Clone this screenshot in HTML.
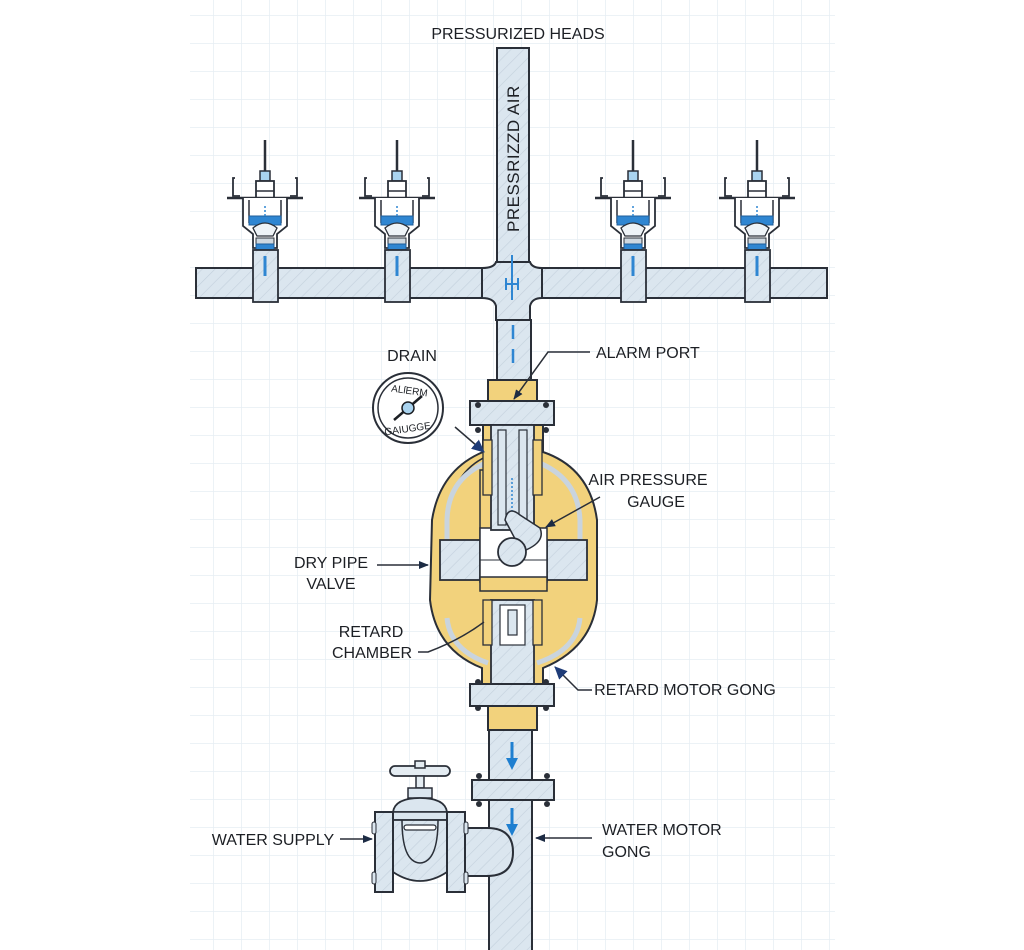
<!DOCTYPE html>
<html><head><meta charset="utf-8"><style>
html,body{margin:0;padding:0;background:#fff;}
svg{display:block;}
text{font-family:"Liberation Sans",Arial,sans-serif;fill:#1c1f24;}
</style></head><body>
<svg width="1024" height="950" viewBox="0 0 1024 950" xmlns="http://www.w3.org/2000/svg">
<defs>
<pattern id="grid" x="185" y="15" width="28" height="28" patternUnits="userSpaceOnUse">
<path d="M0 0H28M0 0V28" stroke="#e6edf3" stroke-width="1.5" fill="none"/>
</pattern>
<pattern id="hatch" width="9" height="9" patternUnits="userSpaceOnUse" patternTransform="rotate(45)">
<rect width="9" height="9" fill="#dbe6ef"/>
<line x1="0" y1="0" x2="0" y2="9" stroke="#c3d0dc" stroke-width="1.2"/>
</pattern>
<pattern id="hatchY" width="9" height="9" patternUnits="userSpaceOnUse" patternTransform="rotate(45)">
<rect width="9" height="9" fill="#f2d27c"/>
<line x1="0" y1="0" x2="0" y2="9" stroke="#e6c165" stroke-width="1"/>
</pattern>
<marker id="ar" markerWidth="10" markerHeight="10" refX="9" refY="5" orient="auto" markerUnits="userSpaceOnUse">
<path d="M0 1 L10 5 L0 9 Z" fill="#1c2b44"/>
</marker>
<marker id="ab" markerWidth="14" markerHeight="14" refX="12" refY="7" orient="auto" markerUnits="userSpaceOnUse">
<path d="M0 1 L13 7 L0 13 Z" fill="#1f3c78"/>
</marker>
<g id="head">
<line x1="0" y1="-128" x2="0" y2="-95" stroke="#2a2f38" stroke-width="2.5"/>
<rect x="-5" y="-97" width="10" height="10" fill="#a9d3ef" stroke="#2a2f38" stroke-width="1.5"/>
<rect x="-9" y="-87" width="18" height="22" fill="#fff" stroke="#2a2f38" stroke-width="1.8"/>
<line x1="-9" y1="-77" x2="9" y2="-77" stroke="#2a2f38" stroke-width="1.5"/>
<path d="M-30 -90 L-32 -90 L-32 -72 L-25 -72 M30 -90 L32 -90 L32 -72 L25 -72" stroke="#2a2f38" stroke-width="1.8" fill="none"/>
<line x1="-38" y1="-70" x2="38" y2="-70" stroke="#2a2f38" stroke-width="2.5"/>
<path d="M-22 -70 L-22 -42 L-12 -34 L-12 -20 L12 -20 L12 -34 L22 -42 L22 -70" fill="#fff" stroke="#2a2f38" stroke-width="1.8"/>
<path d="M-16 -68 L-16 -45 M16 -68 L16 -45" stroke="#2a2f38" stroke-width="1.5"/>
<rect x="-16" y="-52" width="32" height="9" fill="#2f86d2" stroke="#1f5e9a" stroke-width="1"/>
<path d="M-12 -40 Q0 -50 12 -40 L8 -32 L-8 -32 Z" fill="#eef3f7" stroke="#2a2f38" stroke-width="1.3"/>
<rect x="-9" y="-30" width="18" height="6" fill="#cfd8e0" stroke="#2a2f38" stroke-width="1"/>
<rect x="-9" y="-24" width="18" height="6" fill="#2f86d2" stroke="#1f5e9a" stroke-width="1"/>
<line x1="0" y1="-62" x2="0" y2="-52" stroke="#2f86d2" stroke-width="1.5" stroke-dasharray="2 2"/>
<rect x="-12" y="-18" width="25" height="52" fill="url(#hatch)" stroke="#2a2f38" stroke-width="1.8"/>
<line x1="0" y1="-12" x2="0" y2="8" stroke="#2f86d2" stroke-width="3"/>
</g>
</defs>
<rect x="190" y="0" width="645" height="950" fill="url(#grid)"/>

<!-- top vertical pipe -->
<rect x="497" y="48" width="32" height="220" fill="url(#hatch)" stroke="#2a2f38" stroke-width="2"/>
<text x="519" y="232" font-size="17" transform="rotate(-90 519 232)" letter-spacing="0.5">PRESSRIZZD AIR</text>

<!-- horizontal pipe -->
<rect x="196" y="268" width="631" height="30" fill="url(#hatch)" stroke="#2a2f38" stroke-width="2"/>
<use href="#head" x="265" y="268"/>
<use href="#head" x="397" y="268"/>
<use href="#head" x="633" y="268"/>
<use href="#head" x="757" y="268"/>

<!-- tee -->
<path d="M496 262 L530 262 Q532 268 542 268 L542 298 Q532 298 530 306 L530 320 L496 320 L496 306 Q494 298 482 298 L482 268 Q494 268 496 262 Z" fill="url(#hatch)" stroke="#2a2f38" stroke-width="2"/>
<line x1="512" y1="255" x2="512" y2="300" stroke="#2f86d2" stroke-width="2"/>
<path d="M506 278 L506 290 M506 284 L518 284 M518 278 L518 290" stroke="#2f86d2" stroke-width="2" fill="none"/>
<!-- pipe down to valve -->
<rect x="497" y="320" width="34" height="62" fill="url(#hatch)" stroke="#2a2f38" stroke-width="2"/>
<line x1="513" y1="325" x2="513" y2="368" stroke="#2f86d2" stroke-width="2.5" stroke-dasharray="14 10"/>

<!-- valve -->
<rect x="488" y="380" width="49" height="22" fill="#f2d27c" stroke="#2a2f38" stroke-width="2"/>
<rect x="470" y="401" width="84" height="24" fill="url(#hatch)" stroke="#2a2f38" stroke-width="2"/>
<circle cx="478" cy="405" r="3" fill="#2a2f38"/><circle cx="546" cy="405" r="3" fill="#2a2f38"/>
<circle cx="478" cy="430" r="3" fill="#2a2f38"/><circle cx="546" cy="430" r="3" fill="#2a2f38"/>
<!-- body yellow -->
<path d="M483 425 L483 452 Q440 470 432 520 L430 600 Q436 650 482 668 L482 684 L543 684 L543 668 Q592 648 597 600 L597 520 Q590 468 543 452 L543 425 Z" fill="#f2d27c" stroke="#2a2f38" stroke-width="2"/>
<!-- inner cavity outlines -->
<path d="M490 470 L490 455 Q452 470 447 520 L447 548 L480 548 L480 470 Z" fill="none" stroke="#2a2f38" stroke-width="1.5"/>
<path d="M447 520 Q448 478 488 462 M447 548 L447 520" fill="none" stroke="#c9d4de" stroke-width="5"/>
<path d="M537 462 Q578 478 580 520 M580 520 L580 548" fill="none" stroke="#c9d4de" stroke-width="5"/>
<path d="M447 618 Q450 650 488 663 M537 663 Q577 650 580 618" fill="none" stroke="#c9d4de" stroke-width="5"/>
<!-- side blocks -->
<rect x="440" y="540" width="40" height="40" fill="url(#hatch)" stroke="#2a2f38" stroke-width="1.8"/>
<rect x="547" y="540" width="40" height="40" fill="url(#hatch)" stroke="#2a2f38" stroke-width="1.8"/>
<!-- center cavity white -->
<rect x="480" y="528" width="67" height="54" fill="#fff" stroke="#2a2f38" stroke-width="1.5"/>
<line x1="480" y1="560" x2="547" y2="560" stroke="#2a2f38" stroke-width="1"/>
<!-- top stem -->
<rect x="491" y="425" width="43" height="105" fill="url(#hatch)" stroke="#2a2f38" stroke-width="1.8"/>
<rect x="498" y="430" width="8" height="95" fill="#dbe6ef" stroke="#2a2f38" stroke-width="1.2"/>
<rect x="519" y="430" width="8" height="95" fill="#dbe6ef" stroke="#2a2f38" stroke-width="1.2"/>
<rect x="483" y="440" width="9" height="55" fill="#f2d27c" stroke="#2a2f38" stroke-width="1.3"/>
<rect x="533" y="440" width="9" height="55" fill="#f2d27c" stroke="#2a2f38" stroke-width="1.3"/>
<line x1="512" y1="478" x2="512" y2="525" stroke="#2f86d2" stroke-width="1.5" stroke-dasharray="2 2"/>
<!-- clapper -->
<path d="M505 520 Q508 505 520 515 L540 528 Q545 540 530 548 L522 552 Z" fill="url(#hatch)" stroke="#2a2f38" stroke-width="1.5"/>
<circle cx="512" cy="552" r="14" fill="url(#hatch)" stroke="#2a2f38" stroke-width="1.8"/>
<!-- lower seat -->
<rect x="480" y="577" width="67" height="14" fill="#f2d27c" stroke="#2a2f38" stroke-width="1.5"/>
<rect x="491" y="600" width="43" height="84" fill="url(#hatch)" stroke="#2a2f38" stroke-width="1.8"/>
<rect x="500" y="605" width="25" height="40" fill="#fff" stroke="#2a2f38" stroke-width="1.2"/>
<rect x="508" y="610" width="9" height="25" fill="#dbe6ef" stroke="#2a2f38" stroke-width="1.2"/>
<rect x="483" y="600" width="9" height="45" fill="#f2d27c" stroke="#2a2f38" stroke-width="1.3"/>
<rect x="533" y="600" width="9" height="45" fill="#f2d27c" stroke="#2a2f38" stroke-width="1.3"/>
<!-- bottom flange -->
<rect x="470" y="684" width="84" height="22" fill="url(#hatch)" stroke="#2a2f38" stroke-width="2"/>
<circle cx="478" cy="682" r="3" fill="#2a2f38"/><circle cx="546" cy="682" r="3" fill="#2a2f38"/>
<circle cx="478" cy="708" r="3" fill="#2a2f38"/><circle cx="546" cy="708" r="3" fill="#2a2f38"/>
<rect x="488" y="706" width="49" height="24" fill="#f2d27c" stroke="#2a2f38" stroke-width="2"/>

<!-- lower pipe -->
<rect x="489" y="730" width="43" height="222" fill="url(#hatch)" stroke="#2a2f38" stroke-width="2"/>
<rect x="472" y="780" width="82" height="20" fill="url(#hatch)" stroke="#2a2f38" stroke-width="2"/>
<circle cx="479" cy="776" r="3" fill="#2a2f38"/><circle cx="547" cy="776" r="3" fill="#2a2f38"/>
<circle cx="479" cy="804" r="3" fill="#2a2f38"/><circle cx="547" cy="804" r="3" fill="#2a2f38"/>
<path d="M512 742 L512 760" stroke="#1e7fd0" stroke-width="3"/><path d="M506 758 L518 758 L512 770 Z" fill="#1e7fd0"/>
<path d="M512 808 L512 826" stroke="#1e7fd0" stroke-width="3"/><path d="M506 824 L518 824 L512 836 Z" fill="#1e7fd0"/>

<!-- branch elbow -->
<path d="M460 828 L487 828 Q513 828 513 852 Q513 876 487 876 L460 876 Z" fill="url(#hatch)" stroke="#2a2f38" stroke-width="2"/>
<!-- gate valve -->
<rect x="390" y="766" width="60" height="10" rx="5" fill="#e4ecf2" stroke="#2a2f38" stroke-width="1.8"/>
<rect x="415" y="761" width="10" height="7" fill="#e4ecf2" stroke="#2a2f38" stroke-width="1.5"/>
<rect x="416" y="776" width="8" height="12" fill="#e4ecf2" stroke="#2a2f38" stroke-width="1.5"/>
<rect x="408" y="788" width="24" height="10" fill="#dbe6ef" stroke="#2a2f38" stroke-width="1.5"/>
<path d="M393 812 Q395 798 420 798 Q445 798 447 812 Z" fill="#dbe6ef" stroke="#2a2f38" stroke-width="1.8"/>
<rect x="393" y="812" width="54" height="8" fill="#dbe6ef" stroke="#2a2f38" stroke-width="1.5"/>
<path d="M393 820 L447 820 L447 872 Q420 890 393 872 Z" fill="url(#hatch)" stroke="#2a2f38" stroke-width="1.8"/>
<path d="M402 820 Q402 862 420 863 Q438 862 438 820" fill="none" stroke="#2a2f38" stroke-width="1.5"/>
<rect x="404" y="825" width="32" height="5" rx="2.5" fill="#fff" stroke="#2a2f38" stroke-width="1.3"/>
<rect x="375" y="812" width="18" height="80" fill="url(#hatch)" stroke="#2a2f38" stroke-width="2"/>
<rect x="447" y="812" width="18" height="80" fill="url(#hatch)" stroke="#2a2f38" stroke-width="2"/>
<rect x="372" y="822" width="4" height="12" rx="2" fill="#dbe6ef" stroke="#2a2f38"/><rect x="372" y="872" width="4" height="12" rx="2" fill="#dbe6ef" stroke="#2a2f38"/>
<rect x="464" y="822" width="4" height="12" rx="2" fill="#dbe6ef" stroke="#2a2f38"/><rect x="464" y="872" width="4" height="12" rx="2" fill="#dbe6ef" stroke="#2a2f38"/>

<!-- gauge -->
<circle cx="408" cy="408" r="35" fill="#fff" stroke="#2a2f38" stroke-width="2"/>
<circle cx="408" cy="408" r="30" fill="#fff" stroke="#2a2f38" stroke-width="1.5"/>
<text x="409" y="394" font-size="10" text-anchor="middle" transform="rotate(8 409 394)">ALſERM</text>
<text x="408" y="432" font-size="10" text-anchor="middle" transform="rotate(-8 408 432)">GAIUGGE</text>
<line x1="394" y1="420" x2="422" y2="396" stroke="#1c1f24" stroke-width="2.5"/>
<circle cx="408" cy="408" r="6" fill="#a9d3ef" stroke="#1c1f24" stroke-width="1.5"/>

<!-- labels & leaders -->
<text x="518" y="39" font-size="16" text-anchor="middle">PRESSURIZED HEADS</text>
<text x="412" y="361" font-size="16" text-anchor="middle">DRAIN</text>
<line x1="455" y1="427" x2="484" y2="452" stroke="#2a2f38" stroke-width="1.5" marker-end="url(#ab)"/>
<text x="596" y="358" font-size="16">ALARM PORT</text>
<path d="M590 352 L548 352 L514 399" fill="none" stroke="#2a2f38" stroke-width="1.5" marker-end="url(#ar)"/>
<text x="648" y="485" font-size="16" text-anchor="middle">AIR PRESSURE</text>
<text x="656" y="507" font-size="16" text-anchor="middle">GAUGE</text>
<line x1="600" y1="497" x2="546" y2="527" stroke="#2a2f38" stroke-width="1.5" marker-end="url(#ar)"/>
<text x="331" y="568" font-size="16" text-anchor="middle">DRY PIPE</text>
<text x="331" y="589" font-size="16" text-anchor="middle">VALVE</text>
<line x1="377" y1="565" x2="428" y2="565" stroke="#2a2f38" stroke-width="1.5" marker-end="url(#ar)"/>
<text x="371" y="637" font-size="16" text-anchor="middle">RETARD</text>
<text x="372" y="658" font-size="16" text-anchor="middle">CHAMBER</text>
<path d="M418 652 L428 652 Q460 640 484 622" fill="none" stroke="#2a2f38" stroke-width="1.5"/>
<text x="685" y="695" font-size="16" text-anchor="middle">RETARD MOTOR GONG</text>
<path d="M592 690 L578 690 L555 667" fill="none" stroke="#2a2f38" stroke-width="1.5" marker-end="url(#ab)"/>
<text x="273" y="845" font-size="16" text-anchor="middle">WATER SUPPLY</text>
<line x1="340" y1="839" x2="372" y2="839" stroke="#2a2f38" stroke-width="1.5" marker-end="url(#ar)"/>
<text x="602" y="835" font-size="16">WATER MOTOR</text>
<text x="602" y="857" font-size="16">GONG</text>
<line x1="592" y1="838" x2="536" y2="838" stroke="#2a2f38" stroke-width="1.5" marker-end="url(#ar)"/>
</svg>
</body></html>
